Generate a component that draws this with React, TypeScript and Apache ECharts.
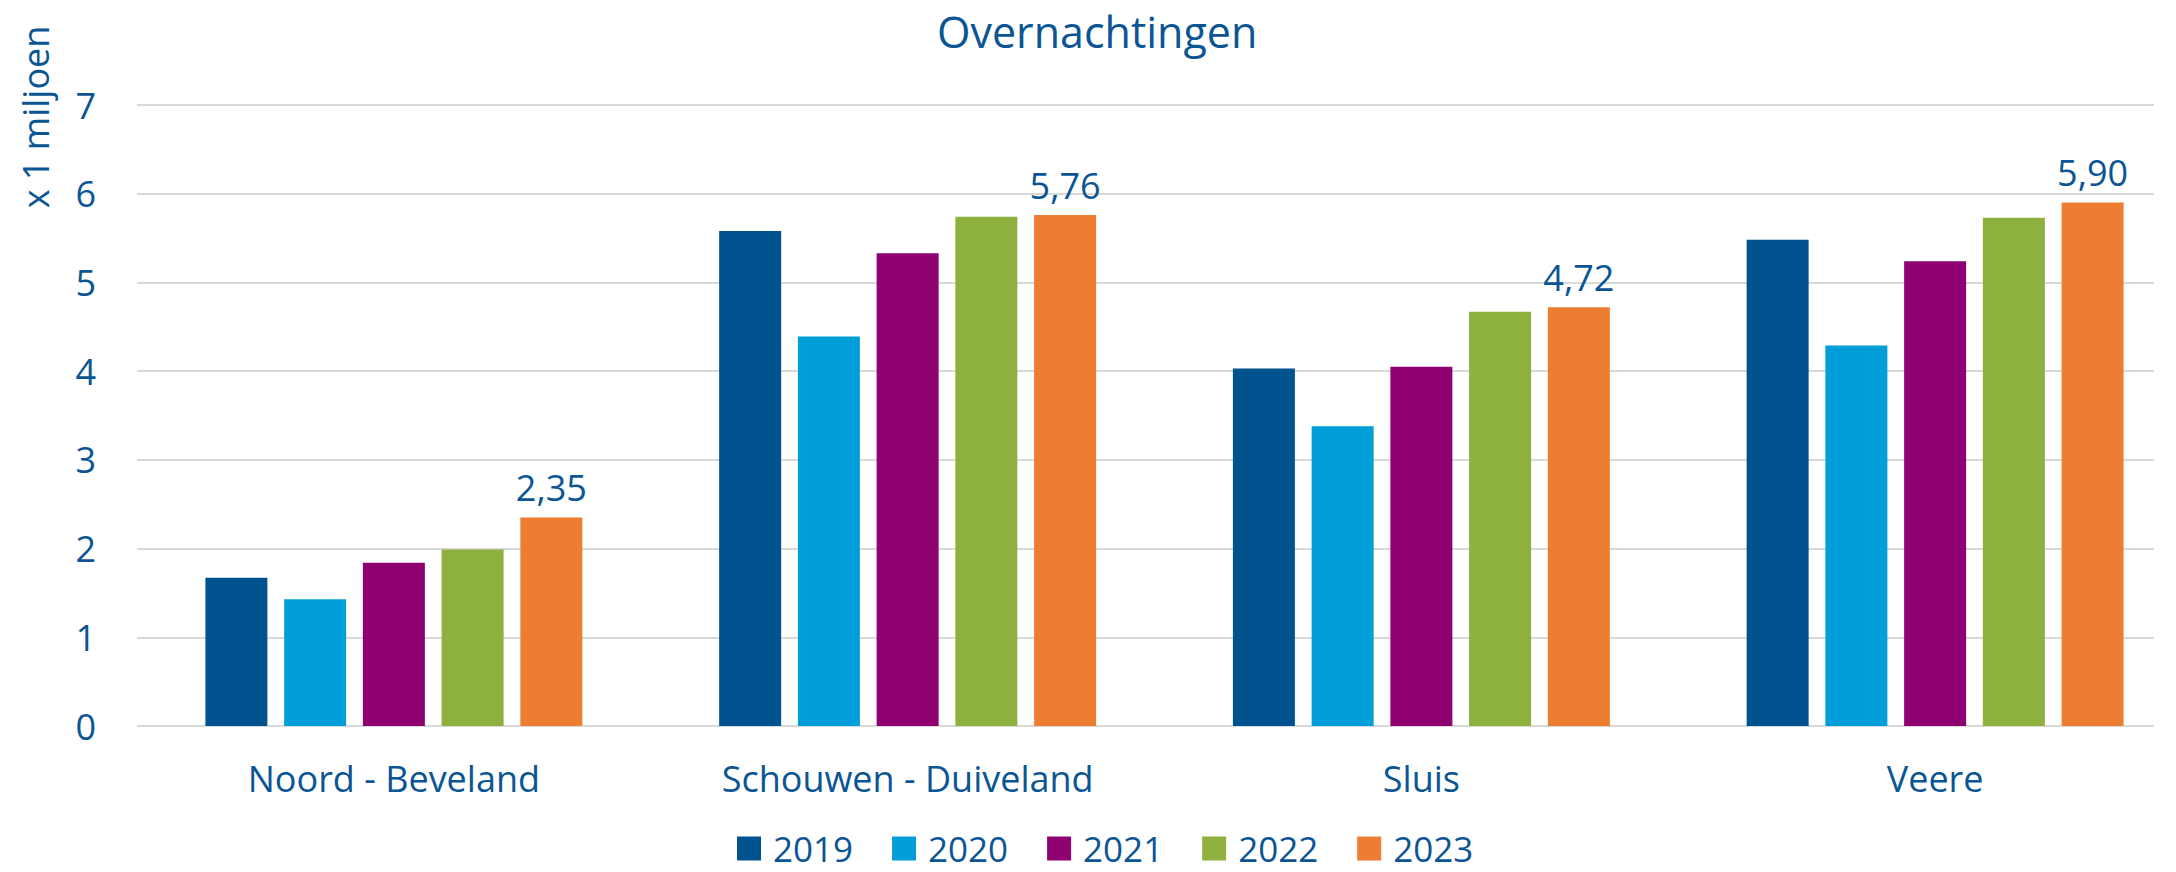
import React, { useEffect, useRef } from "react";
import * as echarts from "echarts";

const categories = ["Noord - Beveland", "Schouwen - Duiveland", "Sluis", "Veere"];
const years = ["2019", "2020", "2021", "2022", "2023"];
const values2019 = [1.67, 5.58, 4.03, 5.48];
const values2020 = [1.43, 4.39, 3.38, 4.29];
const values2021 = [1.84, 5.33, 4.05, 5.24];
const values2022 = [1.99, 5.74, 4.67, 5.73];
const values2023 = [2.35, 5.76, 4.72, 5.9];
const seriesValues = [values2019, values2020, values2021, values2022, values2023];
const colors = ["#00538F", "#009FDA", "#8F0071", "#8EB03E", "#ED7D31"];
const yTicks = [0, 1, 2, 3, 4, 5, 6, 7];

const TEXT = "#0B5594";
const FONT = "Open Sans";

export default function App() {
  const ref = useRef<HTMLDivElement>(null);
  useEffect(() => {
    if (!ref.current) return;
    const chart = echarts.init(ref.current, null, { renderer: "svg" });
    const yMin = yTicks[0];
    const yMax = yTicks[yTicks.length - 1];
    chart.setOption({
      animation: false,
      backgroundColor: "#ffffff",
      textStyle: { fontFamily: FONT, color: TEXT },
      title: {
        text: "Overnachtingen",
        left: 937,
        top: 10,
        padding: 0,
        textStyle: { fontFamily: FONT, fontSize: 43, fontWeight: "normal", color: TEXT },
      },
      legend: {
        data: years,
        left: 737,
        top: 831,
        padding: 0,
        itemWidth: 24,
        itemHeight: 24,
        itemGap: 39,
        icon: "rect",
        textStyle: {
          fontFamily: FONT,
          fontSize: 35,
          color: TEXT,
          padding: [0, 0, 0, 7],
        },
      },
      grid: [
        {
          left: 137,
          width: 2055,
          top: 105,
          bottom: 146,
          containLabel: false,
          outerBoundsMode: "none",
        },
        {
          left: 137,
          right: 22,
          top: 105,
          bottom: 146,
          containLabel: false,
          outerBoundsMode: "none",
        },
      ],
      xAxis: [
        {
          type: "category",
          gridIndex: 0,
          data: categories,
          axisLine: { show: false },
          axisTick: { show: false },
          axisLabel: { fontFamily: FONT, fontSize: 36, color: TEXT, margin: 34 },
        },
        {
          type: "category",
          gridIndex: 1,
          data: categories,
          show: false,
        },
      ],
      yAxis: [
        {
          type: "value",
          gridIndex: 0,
          min: yMin,
          max: yMax,
          interval: 1,
          show: false,
          splitLine: { show: false },
        },
        {
          type: "value",
          gridIndex: 1,
          min: yMin,
          max: yMax,
          interval: 1,
          axisLine: { show: false },
          axisTick: { show: false },
          splitLine: { lineStyle: { color: "#d9d9d9", width: 2 } },
          axisLabel: { fontFamily: FONT, fontSize: 36, color: TEXT, margin: 41 },
        },
      ],
      graphic: [
        {
          type: "text",
          x: 35,
          y: 117,
          rotation: Math.PI / 2,
          style: {
            text: "x 1 miljoen",
            font: `36px "${FONT}"`,
            fill: TEXT,
            align: "center",
            verticalAlign: "middle",
          },
        },
      ],
      series: years.map((y, i) => ({
        name: y,
        type: "bar",
        xAxisIndex: 0,
        yAxisIndex: 0,
        data: seriesValues[i],
        barWidth: 62,
        barGap: "27%",
        itemStyle: { color: colors[i] },
        label:
          i === years.length - 1
            ? {
                show: true,
                position: "top",
                distance: 12,
                fontFamily: FONT,
                fontSize: 36,
                color: TEXT,
                formatter: (p: any) => Number(p.value).toFixed(2).replace(".", ","),
              }
            : { show: false },
      })),
    });
    return () => chart.dispose();
  }, []);
  return (
    <div
      ref={ref}
      style={{ position: "absolute", left: 0, top: 0, width: 2176, height: 872 }}
    />
  );
}
